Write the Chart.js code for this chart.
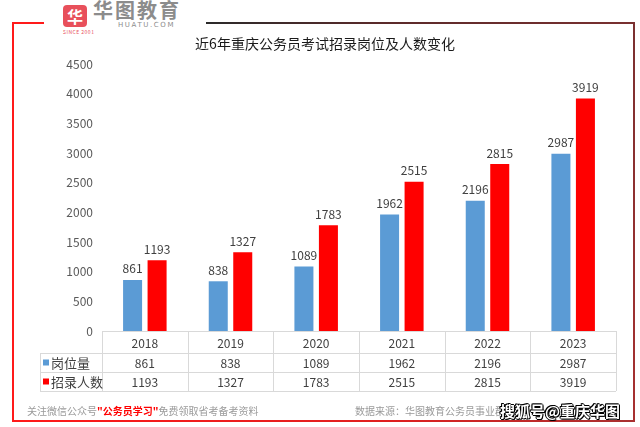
<!DOCTYPE html>
<html>
<head>
<meta charset="utf-8">
<script src="https://cdn.jsdelivr.net/npm/chart.js@4.4.1/dist/chart.umd.min.js"></script>
<style>
  body { margin: 0; width: 640px; height: 427px; background: #fff; position: relative; overflow: hidden;
         font-family: "Noto Sans CJK SC", "Noto Sans", sans-serif; }
  #c { position: absolute; left: 0; top: 0; }
  .ln { position: absolute; }
  #title { position: absolute; top: 33px; left: 0; width: 650px; text-align: center; font-size: 14px; color: #1a1a1a; }
  #logo { position: absolute; left: 46px; top: 0; width: 160px; height: 36px; background: #fff; }
  #logo .sq { position: absolute; left: 17px; top: 5px; width: 24px; height: 22px; background: #e8505b; border-radius: 4px;
              color: #fff; font-size: 16px; font-weight: bold; line-height: 22px; text-align: center; }
  #logo .since { position: absolute; left: 17px; top: 28px; font-size: 5px; color: #e8505b; letter-spacing: 0.5px; }
  #logo .name { position: absolute; left: 47px; top: 0px; font-size: 20px; color: #8c8c8c; font-weight: bold; letter-spacing: 2px; line-height: 20px; }
  #logo .url { position: absolute; left: 72px; top: 21px; font-size: 7px; color: #8c8c8c; letter-spacing: 1.6px; font-family: "DejaVu Sans", sans-serif; }
  .foot { position: absolute; top: 403px; font-size: 10px; color: #9a9a9a; }
  .foot b { color: #ff0000; }
  #sohu { position: absolute; left: 500px; top: 400px; font-size: 15px; font-weight: bold; color: #fff;
          text-shadow: -1px 0 #000, 1px 0 #000, 0 -1px #000, 0 1px #000, 1px 1px #000, -1px -1px #000; }
</style>
</head>
<body>
<!-- frame -->
<div class="ln" style="left:12px;top:22px;width:2px;height:400px;background:#ff1a1a"></div>
<div class="ln" style="left:12px;top:22px;width:32px;height:2px;background:#ff1a1a"></div>
<div class="ln" style="left:205px;top:22px;width:430px;height:2px;background:linear-gradient(to right,#2a2a2a,#5a2a2a 40%,#7a3030)"></div>
<div class="ln" style="left:633px;top:22px;width:2px;height:400px;background:linear-gradient(to bottom,#7a3030,#a83030)"></div>
<div class="ln" style="left:12px;top:420px;width:623px;height:2px;background:linear-gradient(to right,#ff1a1a,#e02020 60%,#a83030)"></div>

<canvas id="c" width="640" height="427"></canvas>

<div id="logo">
  <div class="sq">华</div>
  <div class="since">SINCE 2001</div>
  <div class="name">华图教育</div>
  <div class="url">HUATU.COM</div>
</div>
<div id="title">近6年重庆公务员考试招录岗位及人数变化</div>
<div class="foot" style="left:27px">关注微信公众号<b>"公务员学习"</b>免费领取省考备考资料</div>
<div class="foot" style="left:355px">数据来源：华图教育公务员事业群</div>
<div id="sohu">搜狐号@重庆华图</div>

<script>
// data
const years = ['2018', '2019', '2020', '2021', '2022', '2023'];
const posts = [861, 838, 1089, 1962, 2196, 2987];     // 岗位量
const hires = [1193, 1327, 1783, 2515, 2815, 3919];   // 招录人数
const seriesNames = ['岗位量', '招录人数'];
const seriesColors = ['#5b9bd5', '#ff0000'];
const yMax = 4500;
const yStep = 500;

const font = '"Noto Sans CJK SC", "Noto Sans", sans-serif';

// value labels above bars
const valueLabels = {
  id: 'valueLabels',
  afterDatasetsDraw(chart) {
    const ctx = chart.ctx;
    ctx.save();
    ctx.font = '12px ' + font;
    ctx.fillStyle = '#404040';
    ctx.textAlign = 'center';
    ctx.textBaseline = 'bottom';
    chart.data.datasets.forEach((ds, di) => {
      chart.getDatasetMeta(di).data.forEach((bar, i) => {
        ctx.fillText(ds.data[i], bar.x, bar.y - 5);
      });
    });
    ctx.restore();
  }
};

// data table under the chart
const dataTable = {
  id: 'dataTable',
  afterDraw(chart) {
    const ctx = chart.ctx;
    const area = chart.chartArea;
    const x = chart.scales.x;
    const colW = (area.right - area.left) / years.length;
    const rows = [area.bottom, area.bottom + 22, area.bottom + 41, area.bottom + 60];
    const labelLeft = 40;
    ctx.save();
    ctx.strokeStyle = '#d9d9d9';
    ctx.lineWidth = 1;
    ctx.beginPath();
    ctx.moveTo(area.left, rows[0] + 0.5); ctx.lineTo(area.right, rows[0] + 0.5);
    for (let r = 1; r < rows.length; r++) {
      ctx.moveTo(labelLeft, rows[r] + 0.5); ctx.lineTo(area.right, rows[r] + 0.5);
    }
    ctx.moveTo(labelLeft + 0.5, rows[1]); ctx.lineTo(labelLeft + 0.5, rows[3]);
    for (let i = 0; i <= years.length; i++) {
      const xx = Math.round(area.left + i * colW) + 0.5;
      ctx.moveTo(xx, rows[0]); ctx.lineTo(xx, rows[3]);
    }
    ctx.stroke();

    ctx.font = '12px ' + font;
    ctx.fillStyle = '#404040';
    ctx.textAlign = 'center';
    ctx.textBaseline = 'middle';
    const tableRows = [posts, hires];
    years.forEach((y, i) => {
      const cx = x.getPixelForValue(i);
      ctx.fillText(y, cx, (rows[0] + rows[1]) / 2 + 1);
      tableRows.forEach((vals, r) => {
        ctx.fillText(vals[i], cx, (rows[r + 1] + rows[r + 2]) / 2 + 1);
      });
    });

    ctx.textAlign = 'left';
    ctx.font = '13px ' + font;
    seriesNames.forEach((name, r) => {
      const cy = (rows[r + 1] + rows[r + 2]) / 2;
      ctx.fillStyle = seriesColors[r];
      ctx.fillRect(labelLeft + 3, cy - 3, 6, 6);
      ctx.fillStyle = '#404040';
      ctx.fillText(name, labelLeft + 11, cy + 1);
    });
    ctx.restore();
  }
};

new Chart(document.getElementById('c'), {
  type: 'bar',
  data: {
    labels: years,
    datasets: [
      { label: seriesNames[0], data: posts, backgroundColor: seriesColors[0], categoryPercentage: 0.572, barPercentage: 0.776 },
      { label: seriesNames[1], data: hires, backgroundColor: seriesColors[1], categoryPercentage: 0.572, barPercentage: 0.776 }
    ]
  },
  options: {
    responsive: false,
    animation: false,
    layout: { padding: { left: 0, right: 24, top: 64, bottom: 96 } },
    plugins: { legend: { display: false }, tooltip: { enabled: false }, title: { display: false } },
    scales: {
      x: { display: false },
      y: {
        min: 0, max: yMax,
        ticks: { stepSize: yStep, color: '#595959', font: { size: 12, family: font }, padding: 9,
                 callback: (v) => String(v) },
        grid: { display: false, drawTicks: false },
        border: { display: false },
        afterFit(scale) { scale.width = 102; }
      }
    }
  },
  plugins: [valueLabels, dataTable]
});
</script>
</body>
</html>
